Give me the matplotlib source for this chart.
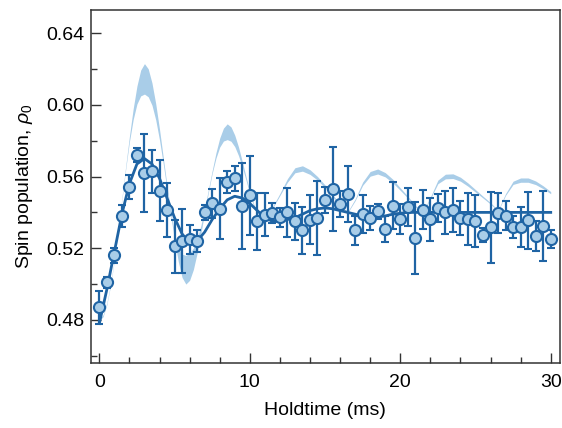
"""
Spin population vs holdtime: data with error bars, damped fit and theory band
"""

import matplotlib.pyplot as plt
import numpy as np

plt.rcParams['font.family'] = ['Liberation Sans', 'DejaVu Sans']
plt.rcParams['mathtext.fontset'] = 'custom'
plt.rcParams['mathtext.it'] = 'Liberation Sans:italic'
plt.rcParams['mathtext.rm'] = 'Liberation Sans'

# measured points (holdtime in ms)
hold_t = [0, 0.5, 1, 1.5, 2, 2.5, 3, 3.5, 4, 4.5, 5, 5.5, 6, 6.5, 7, 7.5, 8, 8.5, 9, 9.5,
          10, 10.5, 11, 11.5, 12, 12.5, 13, 13.5, 14, 14.5, 15, 15.5, 16, 16.5, 17, 17.5,
          18, 18.5, 19, 19.5, 20, 20.5, 21, 21.5, 22, 22.5, 23, 23.5, 24, 24.5, 25, 25.5,
          26, 26.5, 27, 27.5, 28, 28.5, 29, 29.5, 30]
rho = [0.487, 0.501, 0.516, 0.538, 0.554, 0.572, 0.562, 0.563, 0.552, 0.5415,
       0.521, 0.524, 0.525, 0.524, 0.540, 0.545, 0.542, 0.557, 0.559, 0.5435,
       0.5495, 0.535, 0.5387, 0.5396, 0.5374, 0.540, 0.535, 0.530, 0.536, 0.537,
       0.547, 0.553, 0.5447, 0.5503, 0.530, 0.539, 0.5368, 0.5405, 0.5307, 0.5437,
       0.5365, 0.543, 0.5257, 0.5415, 0.5363, 0.5424, 0.540, 0.5415, 0.5368, 0.5363,
       0.535, 0.5275, 0.5316, 0.5396, 0.5381, 0.5318, 0.5318, 0.5355, 0.527, 0.5322,
       0.525]
rho_err = [0.009, 0.003, 0.004, 0.006, 0.0067, 0.004, 0.022, 0.012, 0.017, 0.015,
           0.015, 0.018, 0.008, 0.006, 0.004, 0.008, 0.017, 0.006, 0.007, 0.024,
           0.022, 0.016, 0.012, 0.0057, 0.0053, 0.0137, 0.0105, 0.013, 0.0135, 0.0207,
           0.0073, 0.0235, 0.007, 0.0154, 0.008, 0.0107, 0.0065, 0.004, 0.0073, 0.013,
           0.0084, 0.0106, 0.020, 0.011, 0.012, 0.0076, 0.012, 0.0123, 0.0093, 0.0145,
           0.0145, 0.004, 0.0197, 0.011, 0.008, 0.006, 0.011, 0.016, 0.0084, 0.0196,
           0.005]

fit = [0.478, 0.497, 0.518, 0.539, 0.556, 0.567, 0.570, 0.567, 0.559, 0.548,
       0.537, 0.528, 0.523, 0.524, 0.529, 0.536, 0.542, 0.547, 0.549, 0.548,
       0.545, 0.541, 0.537, 0.535, 0.535, 0.536, 0.537, 0.539, 0.541, 0.542,
       0.5425, 0.542, 0.541, 0.540, 0.539, 0.538, 0.5375, 0.5375, 0.538, 0.539,
       0.5395, 0.540, 0.540, 0.540, 0.540, 0.540, 0.540, 0.540, 0.540, 0.540,
       0.540, 0.540, 0.540, 0.540, 0.540, 0.540, 0.540, 0.540, 0.540, 0.540,
       0.540]

# theory band: centre and half width
band_t = [0, 0.25, 0.5, 0.75, 1, 1.25, 1.5, 1.75, 2, 2.25, 2.5, 2.75, 3, 3.25, 3.5, 3.75,
          4, 4.25, 4.5, 4.75, 5, 5.25, 5.5, 5.75, 6, 6.25, 6.5, 6.75, 7, 7.25, 7.5, 7.75,
          8, 8.25, 8.5, 8.75, 9, 9.25, 9.5, 9.75, 10, 10.25, 10.5, 10.75, 11,
          11.5, 12, 12.5, 13, 13.5, 14, 14.5, 15, 15.5, 16, 16.5, 17, 17.5, 18, 18.5,
          19, 19.5, 20, 20.5, 21, 21.5, 22, 22.5, 23, 23.5, 24, 24.5, 25, 25.5, 26,
          26.5, 27, 27.5, 28, 28.5, 29, 29.5, 30]
band_mid = [0.4800, 0.4823, 0.4890, 0.4997, 0.5136, 0.5298, 0.5473, 0.5647, 0.5809,
            0.5948, 0.6055, 0.6122, 0.6145, 0.6123, 0.6060, 0.5961, 0.5834, 0.5688,
            0.5537, 0.5391, 0.5264, 0.5165, 0.5102, 0.5080, 0.5096, 0.5141, 0.5213,
            0.5305, 0.5410, 0.5520, 0.5625, 0.5717, 0.5789, 0.5834, 0.5850, 0.5837,
            0.5799, 0.5741, 0.5668, 0.5589, 0.5511, 0.5443, 0.5393, 0.5365, 0.5370,
            0.5425, 0.5500, 0.5578, 0.5635, 0.5645, 0.5625, 0.5590, 0.5545, 0.5495,
            0.5440, 0.5400, 0.5470, 0.5560, 0.5615, 0.5628, 0.5610, 0.5575, 0.5530,
            0.5485, 0.5435, 0.5400, 0.5480, 0.5570, 0.5600, 0.5602, 0.5585, 0.5555,
            0.5520, 0.5485, 0.5450, 0.5410, 0.5500, 0.5565, 0.5580, 0.5580, 0.5565,
            0.5540, 0.5510]
band_half = [0.0005, 0.0005, 0.0005, 0.0005, 0.0005, 0.0005, 0.0006, 0.0008, 0.0015,
             0.003, 0.005, 0.0072, 0.0085, 0.0078, 0.0062, 0.0045, 0.003, 0.0018,
             0.0012, 0.0012, 0.002, 0.004, 0.0065, 0.008, 0.0075, 0.006, 0.004,
             0.0022, 0.0012, 0.0008, 0.0008, 0.0015, 0.0025, 0.0036, 0.0044, 0.004,
             0.0032, 0.0024, 0.0016, 0.001, 0.0008, 0.0006, 0.0005, 0.0005, 0.0004,
             0.0004, 0.0006, 0.001, 0.0014, 0.0015, 0.0013, 0.001, 0.0008, 0.0006,
             0.0004, 0.0003, 0.0005, 0.0009, 0.0013, 0.0014, 0.0012, 0.001, 0.0007,
             0.0005, 0.0004, 0.0003, 0.0005, 0.001, 0.0013, 0.0013, 0.0011, 0.0009,
             0.0007, 0.0005, 0.0004, 0.0003, 0.0005, 0.0009, 0.0012, 0.0012, 0.001,
             0.0008, 0.0006]

dark = '#1f64a4'
light = '#a9cde8'

band_mid = np.array(band_mid)
band_half = np.array(band_half)

fig = plt.figure(figsize=(5.62, 4.28), dpi=100)
ax = fig.add_axes([0.162, 0.152, 0.834, 0.825])

ax.fill_between(band_t, band_mid - band_half, band_mid + band_half,
                color=light, lw=0, zorder=1)
ax.plot(hold_t, fit, color=dark, lw=2, zorder=2)
ax.errorbar(hold_t, rho, yerr=rho_err, fmt='o', color=dark, ecolor=dark,
            elinewidth=1.6, capsize=2.6, capthick=1.6, markersize=8,
            markerfacecolor=light, markeredgecolor=dark, markeredgewidth=1.5,
            zorder=3)

ax.set_xlim(-0.55, 30.6)
ax.set_ylim(0.456, 0.653)
ax.set_xticks([0, 10, 20, 30])
ax.set_xticks(np.arange(0, 31, 2), minor=True)
ax.set_yticks([0.48, 0.52, 0.56, 0.60, 0.64])
ax.set_yticks([0.46, 0.50, 0.54, 0.58, 0.62], minor=True)
ax.set_yticklabels(['0.48', '0.52', '0.56', '0.60', '0.64'])

ax.tick_params(which='both', direction='in', labelsize=14, color='#333333',
               width=1)
ax.tick_params(which='major', length=7)
ax.tick_params(which='minor', length=4)
ax.tick_params(axis='x', pad=8)
ax.tick_params(axis='y', pad=5)
for s in ax.spines.values():
    s.set_color('#333333')
    s.set_linewidth(1.1)

ax.set_xlabel('Holdtime (ms)', fontsize=14, labelpad=8)
ax.set_ylabel(r'Spin population, $\rho_0$', fontsize=14, labelpad=8)

fig.savefig('out.png', dpi=100)
